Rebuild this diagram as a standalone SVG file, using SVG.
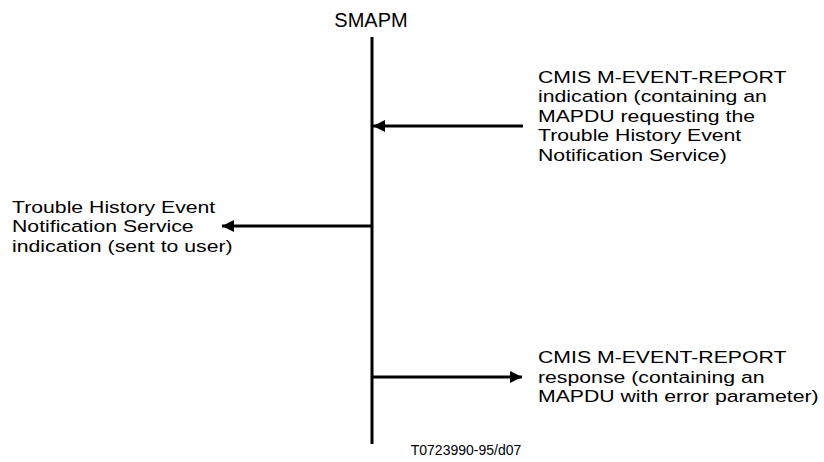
<svg xmlns="http://www.w3.org/2000/svg" width="824" height="462" viewBox="0 0 824 462">
<defs>
<style>
text{font-family:"Liberation Sans",Arial,sans-serif;font-size:17.3px;fill:#000}
.title{font-size:20px}
.small{font-size:14px}
.ln{stroke:#000;stroke-width:3;fill:none}
</style>
<marker id="ah" markerWidth="12" markerHeight="12" viewBox="0 0 12 12" refX="12" refY="6" orient="auto" markerUnits="userSpaceOnUse">
<path d="M0,0 L12,6 L0,12 Z" fill="#000"/>
</marker>
</defs>
<rect width="824" height="462" fill="#fff"/>
<g id="smapm">
<text class="title" x="371" y="27" text-anchor="middle">SMAPM</text>
<line class="ln" x1="372" y1="37" x2="372" y2="444"/>
</g>
<g id="connectors">
<line class="ln" x1="523" y1="126" x2="373" y2="126" marker-end="url(#ah)"/>
<line class="ln" x1="372" y1="226" x2="222" y2="226" marker-end="url(#ah)"/>
<line class="ln" x1="372" y1="377" x2="522" y2="377" marker-end="url(#ah)"/>
</g>
<g id="label-request" transform="translate(538 0) scale(1.227 1)">
<text x="0" y="83">CMIS M-EVENT-REPORT</text>
<text x="0" y="102.5">indication (containing an</text>
<text x="0" y="122">MAPDU requesting the</text>
<text x="0" y="141.5">Trouble History Event</text>
<text x="0" y="161">Notification Service)</text>
</g>
<g id="label-user" transform="translate(12 0) scale(1.227 1)">
<text x="0" y="213">Trouble History Event</text>
<text x="0" y="232.5">Notification Service</text>
<text x="0" y="252">indication (sent to user)</text>
</g>
<g id="label-response" transform="translate(538 0) scale(1.227 1)">
<text x="0" y="363.5">CMIS M-EVENT-REPORT</text>
<text x="0" y="383">response (containing an</text>
<text x="0" y="402.5">MAPDU with error parameter)</text>
</g>
<text class="small" x="466" y="455" text-anchor="middle">T0723990-95/d07</text>
</svg>
